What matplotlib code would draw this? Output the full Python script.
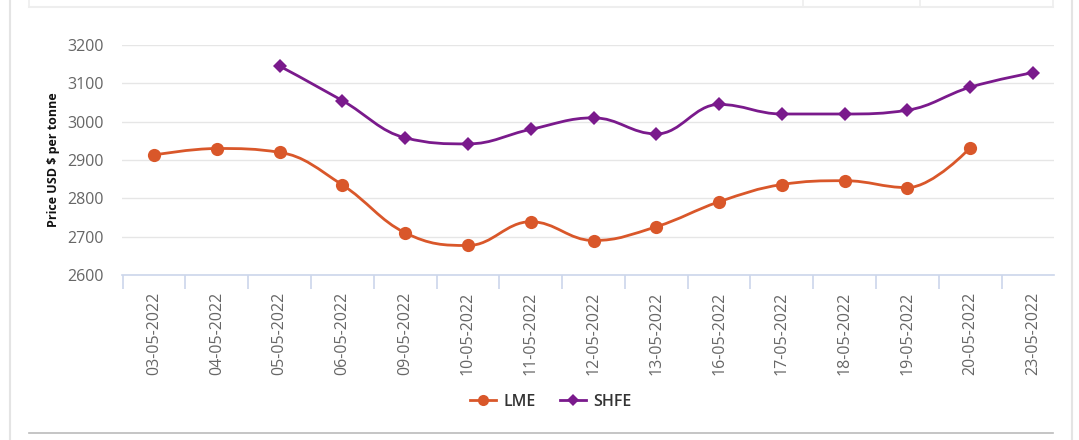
import matplotlib.pyplot as plt
import numpy as np
from matplotlib.path import Path
from matplotlib.patches import PathPatch
from matplotlib.lines import Line2D

# datos
fechas = ["03-05-2022", "04-05-2022", "05-05-2022", "06-05-2022", "09-05-2022",
          "10-05-2022", "11-05-2022", "12-05-2022", "13-05-2022", "16-05-2022",
          "17-05-2022", "18-05-2022", "19-05-2022", "20-05-2022", "23-05-2022"]
lme = [2913, 2930, 2920, 2835, 2710, 2677, 2739, 2690, 2726, 2791, 2836, 2846, 2828, 2932, None]
shfe = [None, None, 3145, 3055, 2958, 2942, 2980, 3010, 2968, 3045, 3020, 3020, 3030, 3090, 3128]

color_lme = "#D9572A"
color_shfe = "#7A1A8C"


def spline_path(xs, ys, smoothing=1.5):
    # curva tipo highcharts spline
    n = len(xs)
    den = smoothing + 1
    left = [(xs[i], ys[i]) for i in range(n)]
    right = [(xs[i], ys[i]) for i in range(n)]
    for i in range(1, n - 1):
        x, y = xs[i], ys[i]
        lx, ly = xs[i - 1], ys[i - 1]
        nx, ny = xs[i + 1], ys[i + 1]
        lcx = (smoothing * x + lx) / den
        lcy = (smoothing * y + ly) / den
        rcx = (smoothing * x + nx) / den
        rcy = (smoothing * y + ny) / den
        if rcx != lcx:
            corr = ((rcy - lcy) * (rcx - x)) / (rcx - lcx) + y - rcy
            lcy += corr
            rcy += corr
        if lcy > ly and lcy > y:
            lcy = max(ly, y)
            rcy = 2 * y - lcy
        elif lcy < ly and lcy < y:
            lcy = min(ly, y)
            rcy = 2 * y - lcy
        if rcy > ny and rcy > y:
            rcy = max(ny, y)
            lcy = 2 * y - rcy
        elif rcy < ny and rcy < y:
            rcy = min(ny, y)
            lcy = 2 * y - rcy
        left[i] = (lcx, lcy)
        right[i] = (rcx, rcy)
    verts = [(xs[0], ys[0])]
    codes = [Path.MOVETO]
    for i in range(1, n):
        verts += [right[i - 1], left[i], (xs[i], ys[i])]
        codes += [Path.CURVE4] * 3
    return Path(verts, codes)


fig = plt.figure(figsize=(10.79, 4.4), dpi=100)
ax = fig.add_axes([122 / 1079, 1 - 275 / 440, (1054 - 122) / 1079, 230 / 440])

for serie, col, mk, ms in [(lme, color_lme, "o", 9.5), (shfe, color_shfe, "D", 7)]:
    xs = [i for i, v in enumerate(serie) if v is not None]
    ys = [v for v in serie if v is not None]
    ax.add_patch(PathPatch(spline_path(xs, ys), fill=False, edgecolor=col, lw=2, zorder=3))
    ax.plot(xs, ys, linestyle="none", marker=mk, markersize=ms, color=col, zorder=4,
            markeredgewidth=0, clip_on=False)

ax.set_xlim(-0.51, len(fechas) - 1 + 0.334)
ax.set_ylim(2600, 3200)
ax.set_yticks(range(2600, 3201, 100))
ax.grid(axis="y", color="#E6E6E6", lw=1)
ax.set_axisbelow(True)
for s in ["top", "right", "left"]:
    ax.spines[s].set_visible(False)
ax.spines["bottom"].set_color("#CCD6EB")
ax.spines["bottom"].set_linewidth(1.2)

ax.set_xticks(range(len(fechas)))
ax.set_xticklabels(fechas, rotation=90, fontsize=11.5, color="#666666", family="Open Sans")
ax.tick_params(axis="x", length=0, pad=12)
ax.set_xticks(np.arange(-0.5, len(fechas) - 1, 1), minor=True)
ax.tick_params(axis="x", which="minor", length=10, color="#CCD6EB", width=1.2)
ax.tick_params(axis="y", length=0, pad=13, labelsize=11.5, labelcolor="#666666")
for t in ax.get_yticklabels():
    t.set_family("Open Sans")

ax.set_ylabel("Price USD $ per tonne", fontsize=9, fontweight="bold", color="#111111",
              family="Open Sans")
ax.yaxis.set_label_coords(-0.067, 0.5)

# leyenda
h1 = Line2D([], [], color=color_lme, marker="o", markersize=8, lw=2, markeredgewidth=0)
h2 = Line2D([], [], color=color_shfe, marker="D", markersize=6, lw=2, markeredgewidth=0)
fig.legend([h1, h2], ["LME", "SHFE"], loc="center", bbox_to_anchor=(551 / 1079, 1 - 402 / 440),
           ncol=2, frameon=False, handlelength=1.6, handletextpad=0.5, columnspacing=1.5,
           prop={"family": "Open Sans", "size": 11.5, "weight": "semibold"}, labelcolor="#333333")

# marcos de la pagina
lc = "#E4E4E4"
fig.add_artist(Line2D([10 / 1079, 10 / 1079], [0, 1], color=lc, lw=1.5))
fig.add_artist(Line2D([1072 / 1079, 1072 / 1079], [0, 1], color=lc, lw=1.5))
fig.add_artist(Line2D([29 / 1079, 1053 / 1079], [1 - 7 / 440, 1 - 7 / 440], color="#EEEEEE", lw=1.5))
for xv in [29, 803, 920, 1053]:
    fig.add_artist(Line2D([xv / 1079, xv / 1079], [1 - 7 / 440, 1], color="#EEEEEE", lw=1.2))
fig.add_artist(Line2D([29 / 1079, 1053 / 1079], [1 - 433 / 440, 1 - 433 / 440], color="#BBBBBB", lw=1.2))

fig.savefig("out.png", dpi=100)
